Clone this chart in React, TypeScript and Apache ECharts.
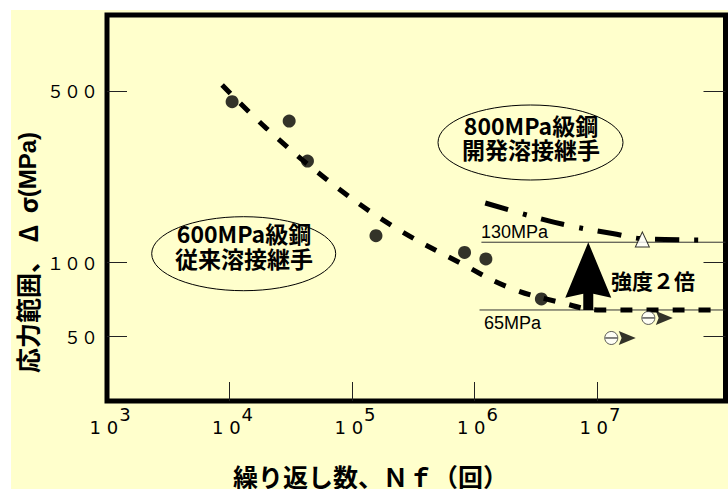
import React, { useEffect, useRef } from "react";
import * as echarts from "echarts";

// ---- data ----
const xLabelValues = [1e3, 1e4, 1e5, 1e6, 1e7];
const xTickValues = [1e4, 1e5, 1e6, 1e7];
const yTickValues = [50, 100, 500];
const yTickLabels = ["５０", "１００", "５００"];

// 600MPa conventional welded joints (filled circles)
const convCycles = [1.05e4, 3.07e4, 4.33e4, 1.57e5, 8.3e5, 1.24e6, 3.52e6];
const convStress = [452, 377, 259, 128.7, 110, 103.4, 71.1];

// fitted S-N curve for conventional joints (dashed)
const convFitCycles = [8.7e3, 1.99e4, 6.15e4, 2.09e5, 7.94e5, 1.96e6, 5.2e6, 1.06e7, 1.122e8];
const convFitStress = [528.6, 353, 219, 142, 98.7, 78.8, 68.5, 64.1, 64.1];

// fitted S-N curve for developed 800MPa joints (dash-dot)
const devFitCycles = [1.225e6, 2.86e6, 6.07e6, 1.34e7, 2.48e7, 7.7e7];
const devFitStress = [174.8, 154.8, 141, 131.4, 124.8, 123.6];

// developed joint result (open triangle)
const devCycles = [2.35e7];
const devStress = [124.2];

// run-outs (open circles with arrows)
const runoutCycles = [2.63e7, 1.31e7];
const runoutStress = [59.5, 49.3];

// fatigue limit lines
const limitHighCycles = [1.14e6, 1.122e8];
const limitHighStress = 121; // "130MPa"
const limitLowCycles = [1.1e6, 1.122e8];
const limitLowStress = 64.1; // "65MPa"

// strength x2 arrow
const arrowCycles = 8.5e6;

const FONT_JP = "'Noto Sans CJK JP', sans-serif";
const FONT_LAT = "'Liberation Sans', Arial, sans-serif";
const FONT_DIG = "'DejaVu Sans', sans-serif";

export default function App() {
  const ref = useRef<HTMLDivElement>(null);

  useEffect(() => {
    if (!ref.current) return;
    const chart = echarts.init(ref.current, undefined, { renderer: "svg" });

    const zip = (a: number[], b: number[]) => a.map((v, i) => [v, b[i]]);

    const option: any = {
      animation: false,
      backgroundColor: "transparent",
      grid: {
        left: 107,
        right: 2.5,
        top: 15,
        bottom: 88,
        show: true,
        borderColor: "#000",
        borderWidth: 5,
        backgroundColor: "transparent",
      },
      xAxis: {
        type: "log",
        logBase: 10,
        min: 999,
        max: 1.122e8,
        axisLine: { show: false },
        splitLine: { show: false },
        minorTick: { show: false },
        axisTick: {
          inside: true,
          length: 19,
          lineStyle: { color: "#222", width: 1 },
          customValues: xTickValues,
        },
        axisLabel: {
          customValues: xLabelValues,
          margin: 4,
          formatter: (v: number) => `{n|1 0}{s|${Math.round(Math.log10(v))}}`,
          rich: {
            n: { fontSize: 18, fontFamily: FONT_DIG, color: "#000", padding: [0, 0, 0, 6] },
            s: { fontSize: 18, fontFamily: FONT_DIG, color: "#000", padding: [0, 0, 26, 1] },
          },
        },
      },
      yAxis: [
        {
          type: "log",
          logBase: 10,
          min: 27.3,
          max: 1019,
          position: "left",
          axisLine: { show: false },
          splitLine: { show: false },
          minorTick: { show: false },
          axisTick: {
            inside: true,
            length: 20,
            lineStyle: { color: "#222", width: 1 },
            customValues: yTickValues,
          },
          axisLabel: {
            customValues: yTickValues,
            margin: 9,
            fontSize: 17,
            fontFamily: FONT_JP,
            color: "#000",
            formatter: (v: number) => {
              const i = yTickValues.findIndex((t) => Math.abs(t - v) / t < 0.01);
              return i >= 0 ? yTickLabels[i] : "";
            },
          },
        },
        {
          type: "log",
          logBase: 10,
          min: 27.3,
          max: 1019,
          position: "right",
          axisLine: { show: false },
          splitLine: { show: false },
          minorTick: { show: false },
          axisTick: {
            inside: true,
            length: 22,
            lineStyle: { color: "#222", width: 1 },
            customValues: yTickValues,
          },
          axisLabel: { show: false },
        },
      ],
      series: [
        {
          type: "line",
          data: limitHighCycles.map((c) => [c, limitHighStress]),
          symbol: "none",
          lineStyle: { color: "#333", width: 1 },
          z: 1,
        },
        {
          type: "line",
          data: limitLowCycles.map((c) => [c, limitLowStress]),
          symbol: "none",
          lineStyle: { color: "#333", width: 1 },
          z: 1,
        },
        {
          type: "line",
          data: zip(convFitCycles, convFitStress),
          symbol: "none",
          smooth: 0.4,
          lineStyle: { color: "#000", width: 5, type: [12, 14], cap: "butt" },
          z: 2,
        },
        {
          type: "line",
          data: zip(devFitCycles, devFitStress),
          symbol: "none",
          smooth: 0.4,
          lineStyle: { color: "#000", width: 5, type: [24, 15, 4, 15], cap: "butt" },
          z: 2,
        },
        {
          type: "custom",
          data: [[arrowCycles, limitLowStress, limitHighStress]],
          renderItem: (params: any, api: any) => {
            const tip = api.coord([api.value(0), api.value(2)]);
            const base = api.coord([api.value(0), api.value(1)]);
            const h = base[1] - tip[1];
            const hh = h * 0.82;
            const x = tip[0];
            const y = tip[1];
            return {
              type: "polygon",
              shape: {
                points: [
                  [x, y],
                  [x + 23, y + hh],
                  [x + 5, y + hh - 4],
                  [x + 5, base[1]],
                  [x - 5, base[1]],
                  [x - 5, y + hh - 4],
                  [x - 23, y + hh],
                ],
              },
              style: { fill: "#000" },
            };
          },
          z: 3,
        },
        {
          type: "scatter",
          data: zip(convCycles, convStress),
          symbol: "circle",
          symbolSize: 13,
          itemStyle: { color: "#000" },
          z: 4,
        },
        {
          type: "scatter",
          data: zip(devCycles, devStress),
          symbol: "triangle",
          symbolSize: [14, 15],
          itemStyle: { color: "#fff", borderColor: "#000", borderWidth: 1 },
          z: 4,
        },
        {
          type: "scatter",
          data: zip(runoutCycles, runoutStress),
          symbol: "path://M0,0 L18,7 L0,14 L3,7 Z",
          symbolSize: [17, 14],
          symbolOffset: [16, 0],
          itemStyle: { color: "#000" },
          z: 4,
        },
        {
          type: "scatter",
          data: zip(runoutCycles, runoutStress),
          symbol: "circle",
          symbolSize: 13,
          itemStyle: { color: "#fff", borderColor: "#333", borderWidth: 1 },
          z: 5,
        },
        {
          type: "scatter",
          data: zip(runoutCycles, runoutStress),
          symbol: "rect",
          symbolSize: [12, 1.5],
          itemStyle: { color: "#333" },
          z: 6,
        },
      ],
      graphic: {
        elements: [
          {
            type: "ellipse",
            shape: { cx: 530.5, cy: 142.5, rx: 92.5, ry: 37.5 },
            style: { fill: "none", stroke: "#000", lineWidth: 1 },
          },
          {
            type: "text",
            x: 531,
            y: 137,
            style: {
              text: "800MPa級鋼\n開発溶接継手",
              fontSize: 23,
              lineHeight: 24,
              fontWeight: "bold",
              fontFamily: FONT_JP,
              fill: "#000",
              align: "center",
              verticalAlign: "middle",
            },
          },
          {
            type: "ellipse",
            shape: { cx: 243.7, cy: 253.7, rx: 92, ry: 37 },
            style: { fill: "none", stroke: "#000", lineWidth: 1 },
          },
          {
            type: "text",
            x: 244,
            y: 245.5,
            style: {
              text: "600MPa級鋼\n従来溶接継手",
              fontSize: 23,
              lineHeight: 25,
              fontWeight: "bold",
              fontFamily: FONT_JP,
              fill: "#000",
              align: "center",
              verticalAlign: "middle",
            },
          },
          {
            type: "text",
            x: 481,
            y: 232,
            style: { text: "130MPa", fontSize: 18, fontFamily: FONT_LAT, fill: "#000", align: "left", verticalAlign: "middle" },
          },
          {
            type: "text",
            x: 484,
            y: 323,
            style: { text: "65MPa", fontSize: 18, fontFamily: FONT_LAT, fill: "#000", align: "left", verticalAlign: "middle" },
          },
          {
            type: "text",
            x: 611,
            y: 280,
            style: { text: "強度２倍", fontSize: 21, fontWeight: "bold", fontFamily: FONT_JP, fill: "#000", align: "left", verticalAlign: "middle" },
          },
          {
            type: "text",
            x: 27,
            y: 252.5,
            rotation: Math.PI / 2,
            style: {
              text: "{a|応力範囲、 Δ  σ}{m|(MPa)}",
              align: "center",
              verticalAlign: "middle",
              rich: {
                a: { fontSize: 25, fontWeight: "bold", fontFamily: FONT_JP, fill: "#000" },
                m: { fontSize: 24, fontWeight: "bold", fontFamily: FONT_LAT, fill: "#000" },
              },
            },
          },
          {
            type: "text",
            x: 370.5,
            y: 476,
            style: { text: "繰り返し数、Ｎｆ（回）", fontSize: 25, fontWeight: "bold", fontFamily: FONT_JP, fill: "#000", align: "center", verticalAlign: "middle" },
          },
        ],
      },
    };

    chart.setOption(option);
    return () => chart.dispose();
  }, []);

  return (
    <div style={{ position: "fixed", left: 0, top: 0, width: 728, height: 489, background: "#fff", overflow: "hidden" }}>
      <div style={{ position: "absolute", left: 11, top: 10, right: 0, bottom: 0, background: "#FFFFCC" }} />
      <div ref={ref} style={{ position: "absolute", left: 0, top: 0, width: 728, height: 489 }} />
    </div>
  );
}
